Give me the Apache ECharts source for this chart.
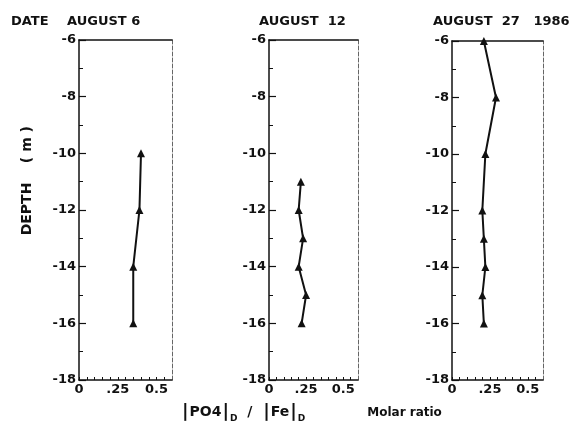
<!DOCTYPE html>
<html>
<head>
<meta charset="utf-8">
<script src="https://cdn.jsdelivr.net/npm/echarts@6/dist/echarts.min.js"></script>
<style>
  html, body { margin: 0; padding: 0; background: #fff; }
  #chart { width: 580px; height: 441px; }
</style>
</head>
<body>
<div id="chart"></div>
<script>
// depth (m) and PO4/Fe molar ratio, one pair per date
var depthAug6 = [-10, -12, -14, -16];
var ratioAug6 = [0.40, 0.39, 0.35, 0.35];
var depthAug12 = [-11, -12, -13, -14, -15, -16];
var ratioAug12 = [0.215, 0.20, 0.23, 0.20, 0.25, 0.22];
var depthAug27 = [-6, -8, -10, -12, -13, -14, -15, -16];
var ratioAug27 = [0.21, 0.29, 0.22, 0.20, 0.21, 0.22, 0.20, 0.21];
var panelTitles = ['AUGUST 6', 'AUGUST  12', 'AUGUST  27   1986'];

var FONT = 'DejaVu Sans';
var ink = '#111';

function pairs(xs, ys) {
	var out = [];
	for (var i = 0; i < xs.length; i++) out.push([xs[i], ys[i]]);
	return out;
}

function xLabel(v) {
	if (Math.abs(v) < 1e-6) return '0';
	if (Math.abs(v - 0.25) < 1e-6) return '.25';
	if (Math.abs(v - 0.5) < 1e-6) return '0.5';
	return '';
}

var grids = [
	{ left: 79, top: 40, width: 93, height: 340 },
	{ left: 269, top: 40, width: 89, height: 340 },
	{ left: 452, top: 41, width: 91, height: 339 }
];

var xAxes = [], yAxes = [], series = [];
var allData = [pairs(ratioAug6, depthAug6), pairs(ratioAug12, depthAug12), pairs(ratioAug27, depthAug27)];

for (var g = 0; g < 3; g++) {
	// bottom axis
	xAxes.push({
		gridIndex: g, type: 'value', min: 0, max: 0.6, interval: 0.05,
		axisLine: { onZero: false, lineStyle: { color: ink, width: 1.5 } },
		axisTick: { inside: true, length: 3, lineStyle: { color: ink } },
		axisLabel: { formatter: xLabel, color: ink, fontFamily: FONT, fontWeight: 'bold', fontSize: 13, margin: 3, showMaxLabel: false },
		splitLine: { show: false }
	});
	// top border
	xAxes.push({
		gridIndex: g, type: 'value', position: 'top', min: 0, max: 0.6,
		axisLine: { onZero: false, lineStyle: { color: ink, width: 1.5 } },
		axisTick: { show: false }, axisLabel: { show: false }, splitLine: { show: false }
	});
	// left depth axis
	yAxes.push({
		gridIndex: g, type: 'value', min: -18, max: -6, interval: 2,
		axisLine: { onZero: false, lineStyle: { color: ink, width: 1.5 } },
		axisTick: { inside: true, length: 7, lineStyle: { color: ink, width: 1.2 } },
		minorTick: { show: true, splitNumber: 2, length: 4, lineStyle: { color: ink } },
		axisLabel: { color: ink, fontFamily: FONT, fontWeight: 'bold', fontSize: 13, margin: 3 },
		splitLine: { show: false }
	});
	// right border, faint dashed
	yAxes.push({
		gridIndex: g, type: 'value', position: 'right', min: -18, max: -6,
		axisLine: { onZero: false, lineStyle: { color: '#666', width: 1, type: [4, 2] } },
		axisTick: { show: false }, axisLabel: { show: false }, splitLine: { show: false }
	});
	series.push({
		type: 'line', xAxisIndex: g * 2, yAxisIndex: g * 2,
		data: allData[g],
		symbol: 'triangle', symbolSize: 8,
		itemStyle: { color: ink },
		lineStyle: { color: ink, width: 2 },
		animation: false
	});
}

var titleStyle = { fontFamily: FONT, fontWeight: 'bold', fontSize: 13, color: ink };

var chart = echarts.init(document.getElementById('chart'));
chart.setOption({
	backgroundColor: '#fff',
	animation: false,
	grid: grids,
	xAxis: xAxes,
	yAxis: yAxes,
	series: series,
	title: [
		{ text: 'DATE', left: 6, top: 10, textStyle: titleStyle },
		{ text: panelTitles[0], left: 62, top: 10, textStyle: titleStyle },
		{ text: panelTitles[1], left: 254, top: 10, textStyle: titleStyle },
		{ text: panelTitles[2], left: 428, top: 10, textStyle: titleStyle },
		{
			text: '{b||}{m|PO4}{b||}{s|D}{m|  /  }{b||}{m|Fe}{b||}{s|D}{r|Molar ratio}',
			left: 176, top: 397,
			textStyle: {
				rich: {
					m: { fontFamily: FONT, fontWeight: 'bold', fontSize: 14, color: ink },
					r: { fontFamily: FONT, fontWeight: 'bold', fontSize: 12, color: ink, padding: [0, 0, 0, 62] },
					b: { fontFamily: FONT, fontWeight: 'bold', fontSize: 18, color: ink, padding: [0, 1, 0, 1] },
					s: { fontFamily: FONT, fontWeight: 'bold', fontSize: 9, color: ink, padding: [12, 0, 0, 0] }
				}
			}
		}
	],
	graphic: [{
		type: 'text', left: 20, top: 126,
		rotation: Math.PI / 2,
		style: { text: 'DEPTH    ( m )', font: 'bold 14px "DejaVu Sans"', fill: ink }
	}]
});
</script>
</body>
</html>
